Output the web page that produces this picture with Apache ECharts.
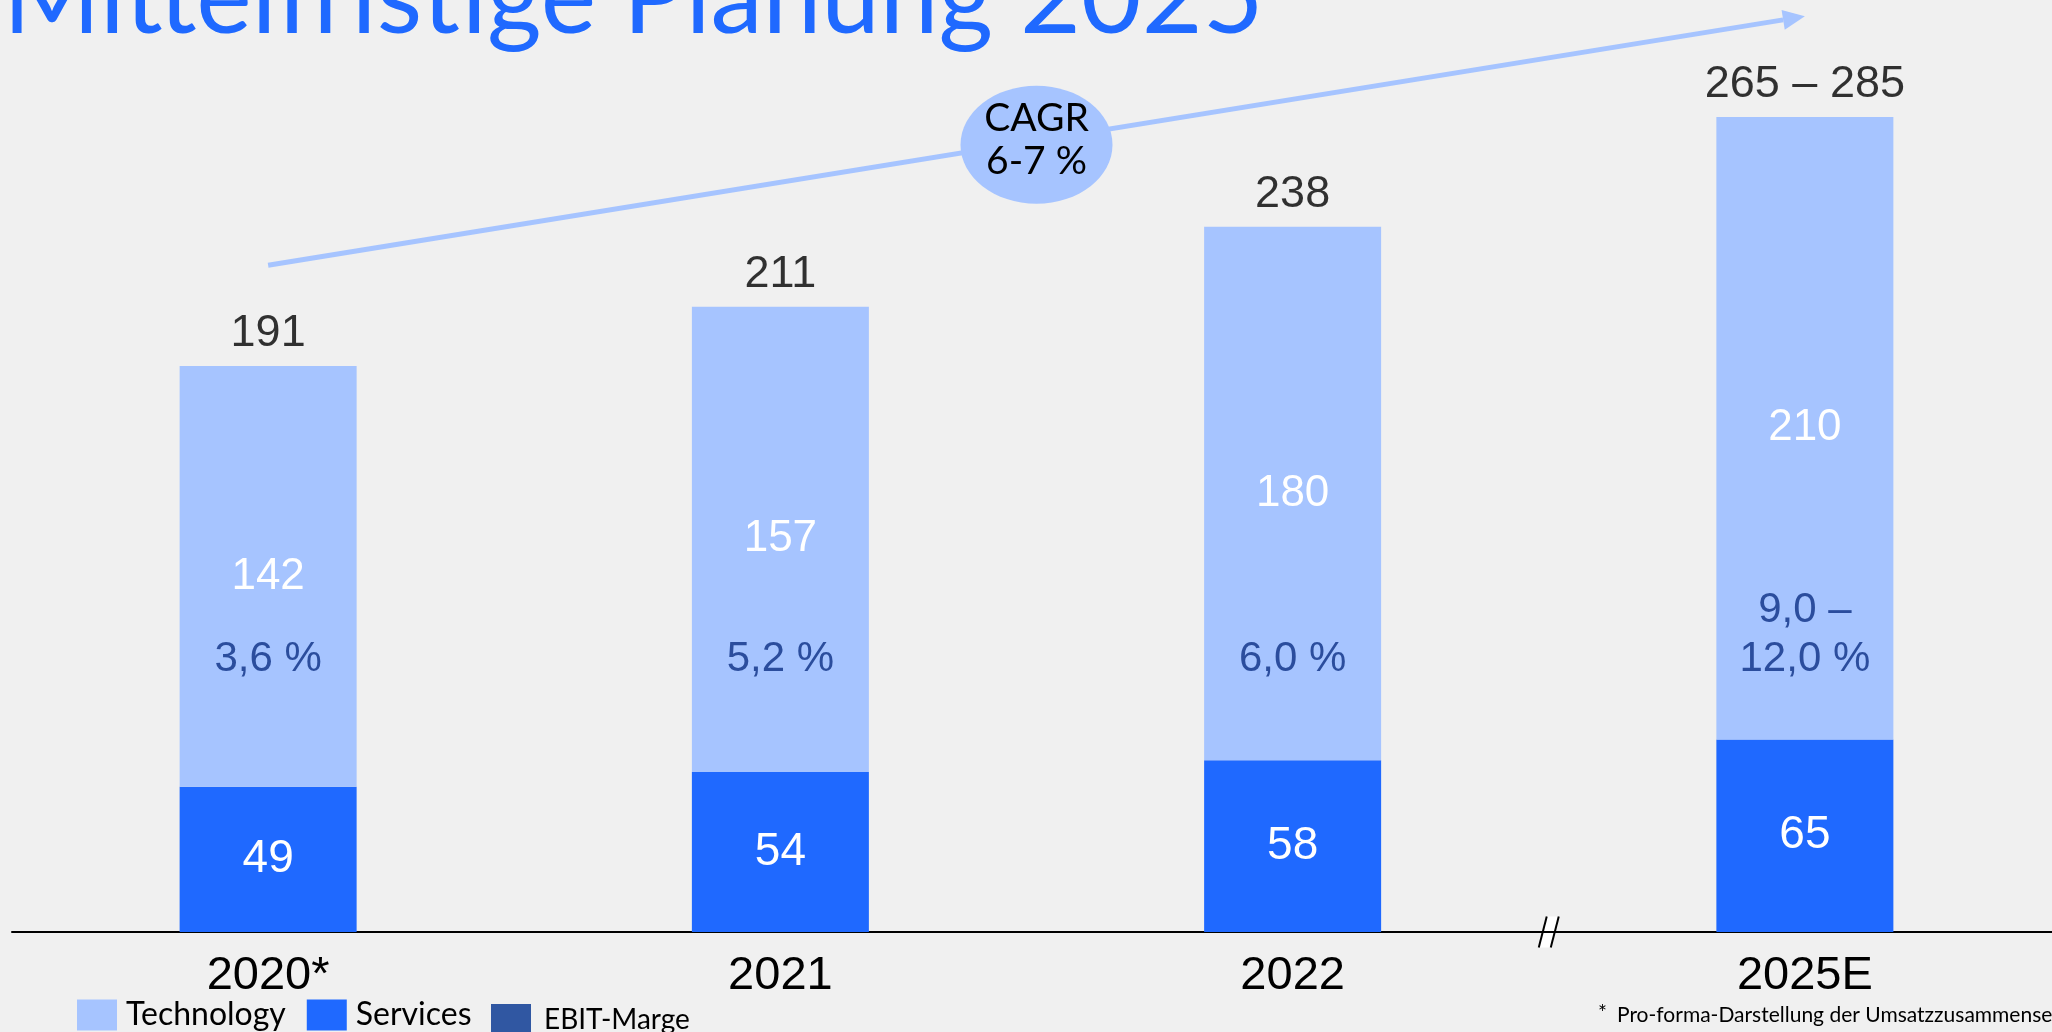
<!DOCTYPE html>
<html>
<head>
<meta charset="utf-8">
<title>Mittelfristige Planung 2025</title>
<script src="https://cdn.jsdelivr.net/npm/echarts@6/dist/echarts.min.js"></script>
<style>
  html, body { margin: 0; padding: 0; background: #f0f0f0; }
  #chart { width: 2052px; height: 1032px; }
</style>
</head>
<body>
<div id="chart"></div>
<script>
// Umsatz nach Segment (Mio. EUR) und EBIT-Marge je Jahr
const categories = ['2020*', '2021', '2022', '2025E'];
const services = [49, 54, 58, 65];
const technology = [142, 157, 180, 210];
const totalLabels = ['191', '211', '238', '265 – 285'];
const ebitLabels = ['3,6 %', '5,2 %', '6,0 %', '9,0 –\n12,0 %'];
const cagrText = 'CAGR\n6-7 %';
const footnote = 'Pro-forma-Darstellung der Umsatzzusammensetzung\nEntsprechend der Geschäftsfeldstruktur mit Geschäftsbereichen';

// Höhe (in Umsatzeinheiten), auf der die Margen-Zeile steht, und Verlauf des CAGR-Pfeils
const EBIT_ROW = 83.7;
const CAGR_FROM = 225;
const CAGR_TO = 309;

const C_TECH = '#a6c4ff';
const C_SERV = '#1f69ff';
const C_EBIT = '#00318f';
const C_EBIT_TEXT = '#0c2f84';
const C_TEXT = '#000';
const NUM_FONT = "'Liberation Sans Narrow', 'Liberation Sans', sans-serif";
const TEXT_FONT = "Lato, 'Noto Sans', sans-serif";

const chart = echarts.init(document.getElementById('chart'), null, { renderer: 'canvas' });

chart.setOption({
  backgroundColor: '#f0f0f0',
  animation: false,
  grid: { left: 12, top: 43, width: 2049, height: 889, outerBoundsMode: 'none' },
  xAxis: {
    type: 'category',
    data: categories,
    axisLine: { show: true, lineStyle: { color: '#000', width: 2 } },
    axisTick: { show: false },
    axisLabel: {
      fontFamily: NUM_FONT, fontSize: 47, lineHeight: 50, color: C_TEXT, margin: 19
    }
  },
  yAxis: { type: 'value', min: 0, max: 300, show: false, splitLine: { show: false } },
  legend: [
    {
      data: ['Technology', 'Services'],
      left: 77, top: 999, padding: 0, icon: 'rect', itemWidth: 40, itemHeight: 31, itemGap: 21,
      textStyle: { fontFamily: TEXT_FONT, fontSize: 32, color: C_TEXT, padding: [0, 0, 0, 4] },
      selectedMode: false
    },
    {
      data: ['EBIT-Marge'],
      left: 491, top: 1004, padding: 0, icon: 'rect', itemWidth: 40, itemHeight: 31,
      textStyle: { fontFamily: TEXT_FONT, fontSize: 28, color: C_TEXT, padding: [0, 0, 0, 8] },
      selectedMode: false
    }
  ],
  series: [
    {
      name: 'Services', type: 'bar', stack: 'umsatz', barWidth: 177,
      data: services,
      itemStyle: { color: C_SERV },
      label: { show: true, position: 'inside', color: '#fff', fontFamily: NUM_FONT, fontSize: 46 },
      silent: true
    },
    {
      name: 'Technology', type: 'bar', stack: 'umsatz', barWidth: 177,
      data: technology,
      itemStyle: { color: C_TECH },
      label: { show: true, position: 'inside', color: '#fff', fontFamily: NUM_FONT, fontSize: 44 },
      silent: true
    },
    {
      name: 'Gesamt', type: 'scatter', symbolSize: 0,
      data: categories.map((c, i) => [c, services[i] + technology[i]]),
      label: {
        show: true, position: 'top', distance: 7,
        formatter: p => totalLabels[p.dataIndex],
        fontFamily: NUM_FONT, fontSize: 45, lineHeight: 50, color: C_TEXT
      },
      silent: true
    },
    {
      name: 'EBIT-Marge', type: 'scatter', symbolSize: 0,
      data: categories.map(c => [c, EBIT_ROW]),
      itemStyle: { color: C_EBIT },
      label: {
        show: true, position: 'top', distance: 0,
        formatter: p => ebitLabels[p.dataIndex],
        fontFamily: NUM_FONT, fontSize: 42, lineHeight: 49, color: C_EBIT_TEXT, align: 'center'
      },
      silent: true
    }
  ]
});

// Pfeil, Blase, Achsenbruch, Titel und Fußnote
const first = chart.convertToPixel({ gridIndex: 0 }, [categories[0], CAGR_FROM]);
const last = chart.convertToPixel({ gridIndex: 0 }, [categories[categories.length - 1], CAGR_TO]);
const angle = Math.atan2(last[1] - first[1], last[0] - first[0]);
const headLen = 22, headHalf = 10;
const shaftEnd = [last[0] - headLen * Math.cos(angle), last[1] - headLen * Math.sin(angle)];
const headLeft = [shaftEnd[0] + headHalf * Math.sin(angle), shaftEnd[1] - headHalf * Math.cos(angle)];
const headRight = [shaftEnd[0] - headHalf * Math.sin(angle), shaftEnd[1] + headHalf * Math.cos(angle)];
const mid = [(first[0] + last[0]) / 2, (first[1] + last[1]) / 2 + 4];

const c2 = chart.convertToPixel({ gridIndex: 0 }, [categories[2], 0]);
const c3 = chart.convertToPixel({ gridIndex: 0 }, [categories[3], 0]);
const bx = (c2[0] + c3[0]) / 2, by = c2[1];

chart.setOption({
  graphic: [
    {
      type: 'text', left: 3, top: -53,
      style: { text: 'Mittelfristige Planung 2025', fill: '#1f69ff', font: '105px ' + TEXT_FONT }
    },
    {
      type: 'line',
      shape: { x1: first[0], y1: first[1], x2: shaftEnd[0], y2: shaftEnd[1] },
      style: { stroke: C_TECH, lineWidth: 5 }
    },
    {
      type: 'polygon',
      shape: { points: [last, headLeft, headRight] },
      style: { fill: C_TECH }
    },
    {
      type: 'ellipse',
      shape: { cx: mid[0], cy: mid[1], rx: 76, ry: 59 },
      style: { fill: C_TECH }
    },
    {
      type: 'text', x: mid[0], y: mid[1] - 5,
      style: {
        text: cagrText, fill: C_TEXT, font: '39px ' + TEXT_FONT, lineHeight: 43,
        align: 'center', verticalAlign: 'middle'
      }
    },
    {
      type: 'polygon',
      shape: { points: [[bx - 10, by + 15.5], [bx + 2, by + 15.5], [bx + 10, by - 15.5], [bx - 2, by - 15.5]] },
      style: { fill: '#ffffff' }
    },
    {
      type: 'line',
      shape: { x1: bx - 10, y1: by + 15.5, x2: bx - 2, y2: by - 15.5 },
      style: { stroke: '#000', lineWidth: 2 }
    },
    {
      type: 'line',
      shape: { x1: bx + 2, y1: by + 15.5, x2: bx + 10, y2: by - 15.5 },
      style: { stroke: '#000', lineWidth: 2 }
    },
    {
      type: 'text', left: 1598, top: 1003,
      style: { text: '*', fill: C_TEXT, font: '21px ' + TEXT_FONT }
    },
    {
      type: 'text', left: 1617, top: 1002,
      style: { text: footnote, fill: C_TEXT, font: '21px ' + TEXT_FONT, lineHeight: 26 }
    }
  ]
});
</script>
</body>
</html>
